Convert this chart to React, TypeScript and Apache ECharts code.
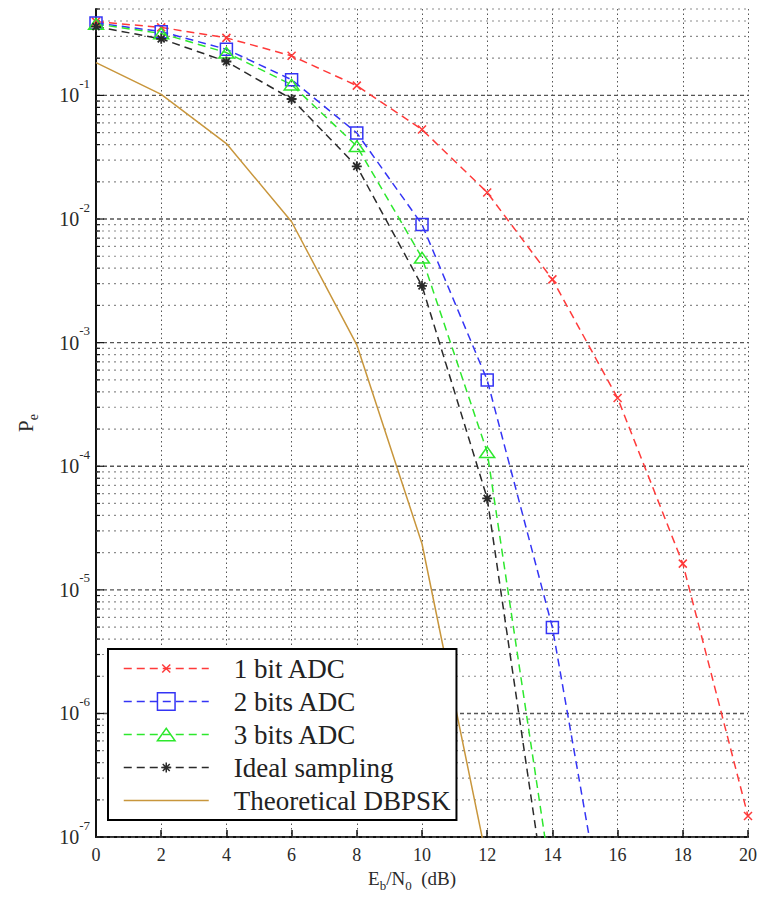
import React, { useEffect, useRef } from 'react';
import * as echarts from 'echarts';

// ---- data ----
const EBN0 = [0, 2, 4, 6, 8, 10, 12, 14, 16, 18, 20];
const BIT1_ADC = [0.395, 0.355, 0.292, 0.209, 0.12, 0.053, 0.0164, 0.00325, 3.56e-4, 1.63e-5, 1.48e-7];
const BIT2_ADC = [0.386, 0.328, 0.236, 0.134, 0.0497, 0.00904, 4.98e-4, 4.96e-6, 5e-9];
const BIT3_ADC = [0.378, 0.317, 0.222, 0.122, 0.0389, 0.00487, 1.3e-4, 3.9e-8];
const IDEAL = [0.36, 0.287, 0.188, 0.0935, 0.0267, 0.00288, 5.5e-5, 1.4e-8];
const THEORY = [0.184, 0.102, 0.0408, 0.0095, 9.6e-4, 2.36e-5, 6.3e-8];

const SERIES_NAMES = ['1 bit ADC', '2 bits ADC', '3 bits ADC', 'Ideal sampling', 'Theoretical DBPSK'];

const X_MIN = 0;
const X_MAX = 20;
const X_STEP = 2;
const Y_MIN = 1e-7;
const Y_MAX = 0.5;
const DECADES = [1e-7, 1e-6, 1e-5, 1e-4, 1e-3, 1e-2, 1e-1];
const MANTISSAS = [2, 3, 4, 5, 6, 7, 8, 9];

const SERIF = 'Liberation Serif, DejaVu Serif, serif';
const TEXT_COLOR = '#2a2a2a';

const COLORS = {
  red: '#ff3a3a',
  blue: '#3434f5',
  green: '#2de82d',
  black: '#2a2a2a',
  gold: '#c8963c',
};

const SYM_X = 'path://M0,0L8,8M8,0L0,8M-4.8,-4.8M12.8,12.8';
const SYM_TRI = 'path://M0,12L7,2L14,12ZM0,0M14,14';
const SYM_STAR = 'path://M5,0L5,10M0,5L10,5M1.5,1.5L8.5,8.5M8.5,1.5L1.5,8.5M-3.8,-3.8M13.8,13.8';

function pairs(vals: number[]) {
  return vals.map((v, i) => [EBN0[i], v]);
}

function lineSeries(name: string, vals: number[], color: string, symbol: string, symbolSize: any, dashed: boolean, markerWidth = 1.5, hideMarker = false) {
  return {
    type: 'line',
    name,
    data: pairs(vals),
    symbol,
    symbolSize,
    showSymbol: true,
    showAllSymbol: true,
    clip: true,
    z: 3,
    lineStyle: { color, width: 1.5, type: dashed ? [8, 5] : 'solid' },
    itemStyle: {
      color: 'rgba(0,0,0,0)',
      borderColor: hideMarker ? 'rgba(0,0,0,0)' : color,
      borderWidth: hideMarker ? 0 : markerWidth,
    },
    emphasis: { disabled: true },
    silent: true,
  };
}

export default function App() {
  const ref = useRef<HTMLDivElement>(null);

  useEffect(() => {
    if (!ref.current) return;
    const chart = echarts.init(ref.current, undefined, { renderer: 'svg' });

    const gridData: number[][] = [];
    DECADES.forEach((d) => {
      gridData.push([X_MIN, d, 1]);
      MANTISSAS.forEach((m) => {
        const v = m * d;
        if (v <= Y_MAX * 1.0001) gridData.push([X_MIN, v, 0]);
      });
    });

    const option: any = {
      animation: false,
      backgroundColor: '#fff',
      textStyle: { fontFamily: SERIF },
      grid: { left: 96, right: 13, top: 9, bottom: 57 },
      legend: {
        data: SERIES_NAMES,
        orient: 'vertical',
        left: 108,
        top: 649,
        itemWidth: 85,
        itemHeight: 22,
        itemGap: 6,
        padding: [6, 6, 6, 15],
        backgroundColor: '#fff',
        borderColor: '#000',
        borderWidth: 2,
        borderRadius: 0,
        selectedMode: false,
        lineStyle: { width: 1.5 },
        itemStyle: { borderWidth: 1.5 },
        textStyle: { fontFamily: SERIF, fontSize: 27, color: '#222', padding: [0, 0, 0, 20], lineHeight: 27 },
      },
      xAxis: {
        type: 'value',
        min: X_MIN,
        max: X_MAX,
        interval: X_STEP,
        axisLine: { show: true, onZero: false, lineStyle: { color: '#111', width: 2 } },
        axisTick: { show: true, inside: true, length: 7, lineStyle: { color: '#111', width: 1.5 } },
        axisLabel: { fontFamily: SERIF, fontSize: 18, color: TEXT_COLOR, margin: 9 },
        splitLine: { show: true, lineStyle: { color: '#555', type: [1.5, 3], width: 1 } },
        name: '{n|E}{s|b}{n|/N}{s|0}{n|  (dB)}',
        nameLocation: 'middle',
        nameGap: 26,
        nameTextStyle: {
          padding: [0, 20, 0, 0],
          rich: {
            n: { fontFamily: SERIF, fontSize: 19, color: TEXT_COLOR, verticalAlign: 'middle' },
            s: { fontFamily: SERIF, fontSize: 13, color: TEXT_COLOR, verticalAlign: 'middle', padding: [14, 0, 0, 0] },
          },
        },
      },
      yAxis: {
        type: 'log',
        logBase: 10,
        min: Y_MIN,
        max: Y_MAX,
        splitNumber: 7,
        axisLine: { show: true, onZero: false, lineStyle: { color: '#111', width: 2 } },
        axisTick: { show: false },
        splitLine: { show: false },
        axisLabel: {
          margin: 6,
          formatter: (v: number) => {
            const l = Math.log10(v);
            const e = Math.round(l);
            if (Math.abs(l - e) > 1e-6) return '';
            return `{b|10}{s|${e}}`;
          },
          rich: {
            b: { fontFamily: SERIF, fontSize: 20, color: TEXT_COLOR, verticalAlign: 'middle' },
            s: { fontFamily: SERIF, fontSize: 13, color: TEXT_COLOR, verticalAlign: 'middle', padding: [0, 0, 24, 0] },
          },
        },
        name: '{n|P}{s|e}',
        nameLocation: 'middle',
        nameRotate: 90,
        nameGap: 56,
        nameTextStyle: {
          rich: {
            n: { fontFamily: SERIF, fontSize: 21, color: TEXT_COLOR, verticalAlign: 'middle' },
            s: { fontFamily: SERIF, fontSize: 14, color: TEXT_COLOR, verticalAlign: 'middle', padding: [14, 0, 0, 0] },
          },
        },
      },
      series: [
        {
          type: 'custom',
          name: 'grid-lines',
          silent: true,
          z: 1,
          clip: false,
          data: gridData,
          renderItem: (_params: any, api: any) => {
            const v = api.value(1);
            const major = api.value(2) === 1;
            const a = api.coord([X_MIN, v]);
            const b = api.coord([X_MAX, v]);
            return {
              type: 'group',
              children: [
                {
                  type: 'line',
                  shape: { x1: a[0], y1: a[1], x2: b[0], y2: b[1] },
                  style: {
                    stroke: major ? '#555' : '#8c8c8c',
                    lineWidth: major ? 1.4 : 1.2,
                    lineDash: major ? [4, 3] : [2, 4],
                  },
                },
                {
                  type: 'line',
                  shape: { x1: a[0], y1: a[1], x2: a[0] + (major ? 8 : 4), y2: a[1] },
                  style: { stroke: '#111', lineWidth: 1.2 },
                },
              ],
            };
          },
        },
        lineSeries(SERIES_NAMES[0], BIT1_ADC, COLORS.red, SYM_X, 17.6, true),
        lineSeries(SERIES_NAMES[1], BIT2_ADC, COLORS.blue, 'rect', 12, true),
        lineSeries(SERIES_NAMES[2], BIT3_ADC, COLORS.green, SYM_TRI, 15, true),
        lineSeries(SERIES_NAMES[3], IDEAL, COLORS.black, SYM_STAR, 17.6, true, 1.8),
        lineSeries(SERIES_NAMES[4], THEORY, COLORS.gold, 'circle', 0, false, 0, true),
      ],
    };

    chart.setOption(option);
    return () => chart.dispose();
  }, []);

  return (
    <div
      ref={ref}
      style={{ position: 'fixed', left: 0, top: 0, width: 761, height: 897, background: '#fff' }}
    />
  );
}
